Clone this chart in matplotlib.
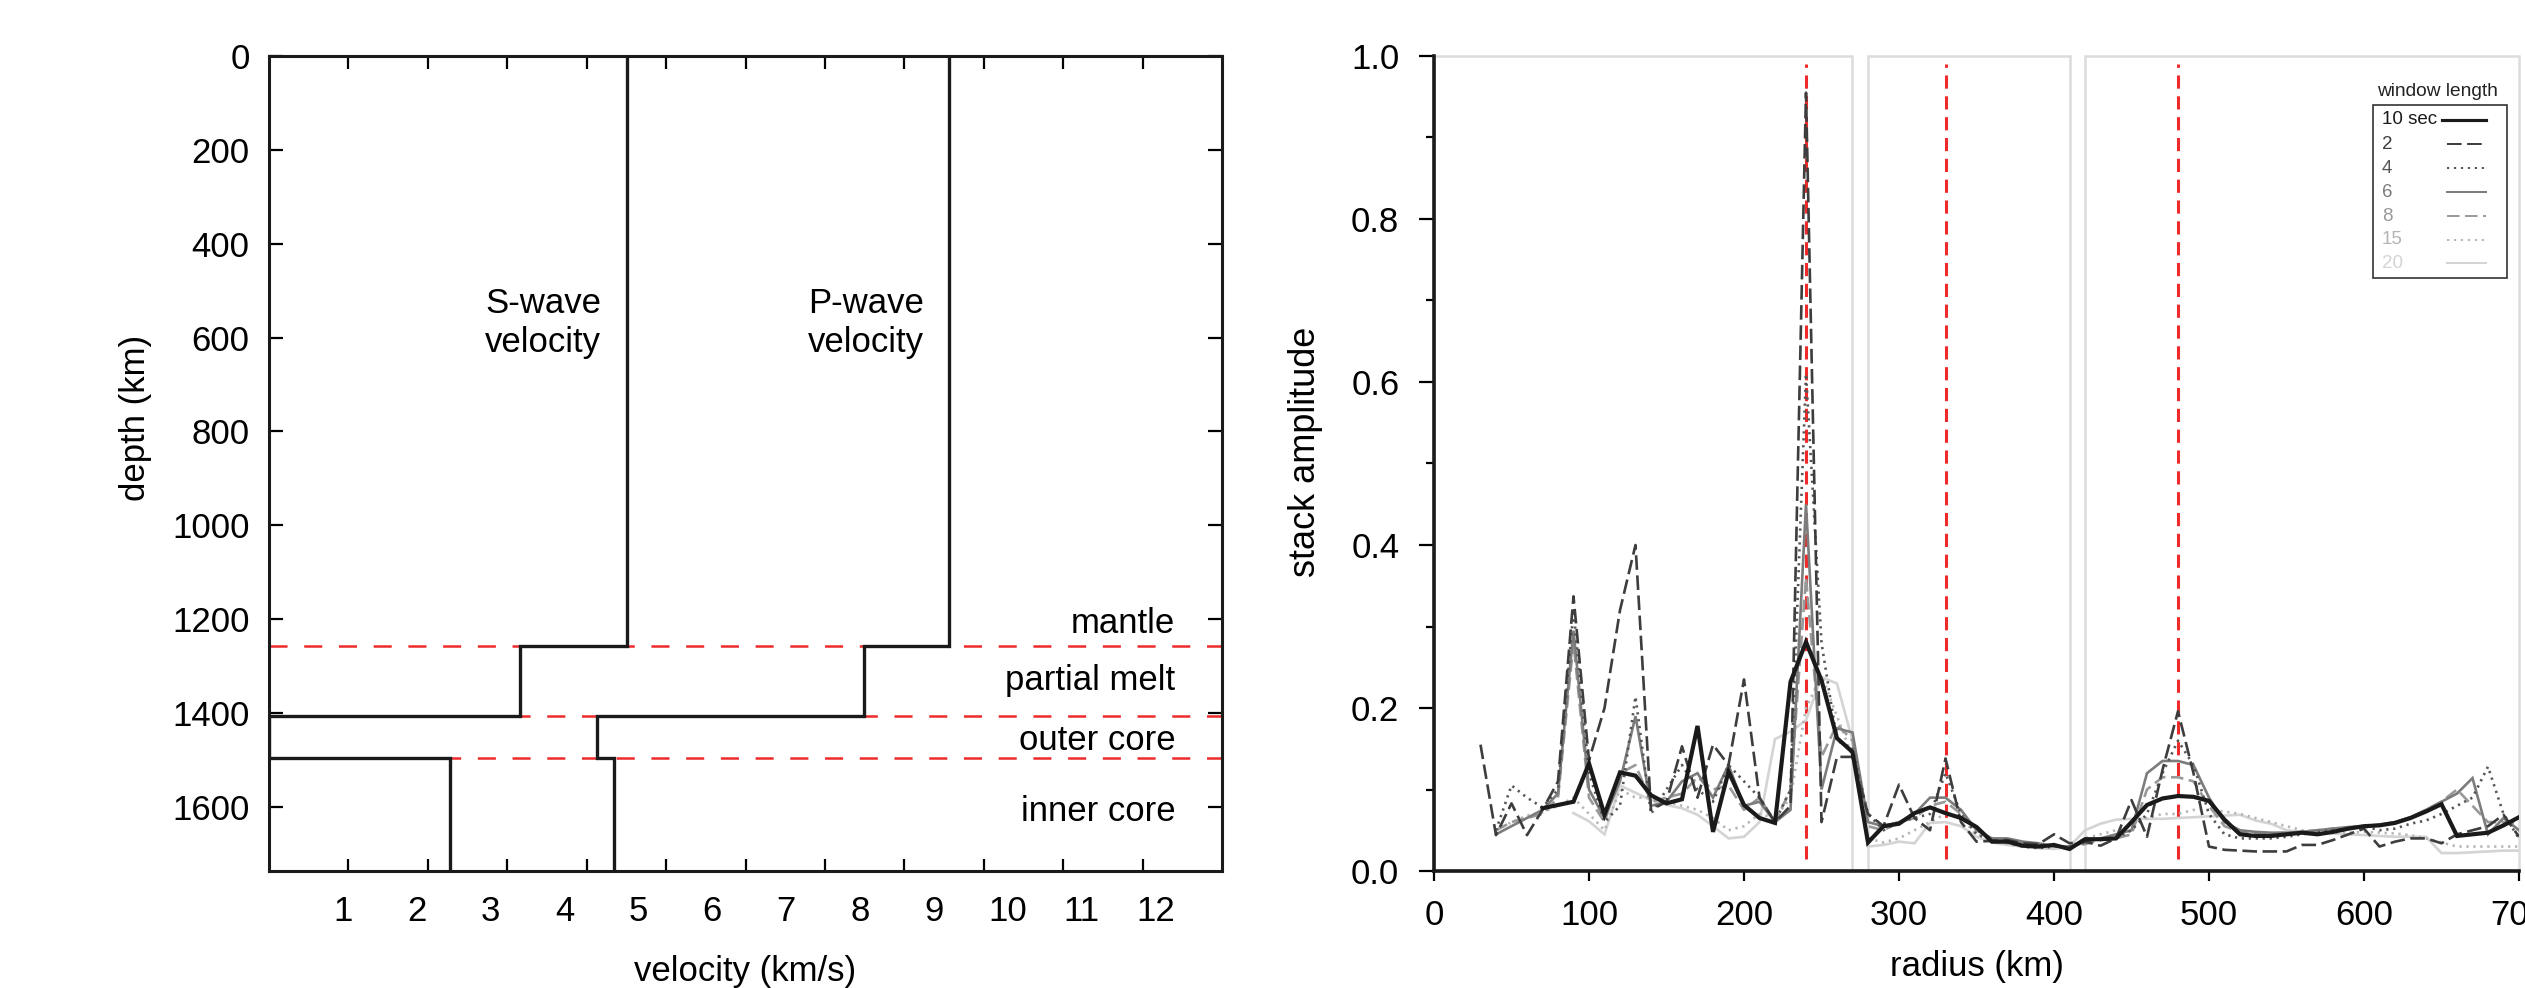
import numpy as np
import matplotlib
matplotlib.use("Agg")
import matplotlib.pyplot as plt
from matplotlib.patches import Rectangle
from matplotlib.lines import Line2D

plt.rcParams['font.family'] = ['Liberation Sans', 'DejaVu Sans']
plt.rcParams['lines.scale_dashes'] = False

# ---------------- data ----------------
moon_radius = 1737
boundary_radii = [480, 330, 240]          # top of partial melt, outer core, inner core
layer_names = ['mantle', 'partial melt', 'outer core', 'inner core']
layer_label_depth = [1229, 1352, 1479, 1631]
vs_layers = [4.85, 3.40, 0.0, 2.45]       # S-wave velocity per layer (km/s)
vp_layers = [9.20, 8.05, 4.44, 4.67]      # P-wave velocity per layer (km/s)
vel_ticklabels = list(range(1, 13))
depth_ticks = [0, 200, 400, 600, 800, 1000, 1200, 1400, 1600]

radius_ticks = [0, 100, 200, 300, 400, 500, 600, 700]
amp_ticks = [0.0, 0.2, 0.4, 0.6, 0.8, 1.0]
panel_ranges = [(0, 270), (280, 410), (420, 700)]

window_labels = ['10 sec', '2', '4', '6', '8', '15', '20']

radius_10 = np.arange(70, 701, 10)
amp_10 = [0.077, 0.081, 0.085, 0.132, 0.069, 0.121, 0.117, 0.093, 0.083, 0.088,
          0.178, 0.048, 0.122, 0.081, 0.065, 0.059, 0.232, 0.281, 0.234, 0.163,
          0.146, 0.035, 0.055, 0.058, 0.071, 0.078, 0.071, 0.065, 0.054, 0.036,
          0.036, 0.031, 0.030, 0.032, 0.027, 0.039, 0.039, 0.040, 0.060, 0.081,
          0.089, 0.092, 0.091, 0.086, 0.063, 0.045, 0.043, 0.043, 0.045, 0.047,
          0.045, 0.048, 0.052, 0.055, 0.056, 0.059, 0.065, 0.073, 0.082, 0.043,
          0.045, 0.047, 0.056, 0.066]

radius_2 = np.arange(30, 701, 10)
amp_2 = [0.155, 0.044, 0.083, 0.044, 0.075, 0.110, 0.337, 0.136, 0.200, 0.320,
         0.400, 0.075, 0.085, 0.153, 0.090, 0.155, 0.130, 0.235, 0.090, 0.060,
         0.080, 0.955, 0.060, 0.140, 0.140, 0.070, 0.055, 0.106, 0.065, 0.050,
         0.138, 0.060, 0.036, 0.037, 0.038, 0.034, 0.033, 0.045, 0.034, 0.036,
         0.031, 0.040, 0.087, 0.042, 0.124, 0.196, 0.120, 0.030, 0.026, 0.025,
         0.024, 0.024, 0.024, 0.032, 0.032, 0.038, 0.045, 0.052, 0.030, 0.036,
         0.040, 0.040, 0.034, 0.045, 0.050, 0.055, 0.069, 0.042]

radius_4 = np.arange(40, 701, 10)
amp_4 = [0.050, 0.105, 0.090, 0.078, 0.100, 0.320, 0.120, 0.060, 0.080, 0.214,
         0.070, 0.100, 0.130, 0.100, 0.085, 0.130, 0.110, 0.090, 0.060, 0.100,
         0.610, 0.280, 0.160, 0.150, 0.070, 0.050, 0.060, 0.065, 0.070, 0.120,
         0.070, 0.045, 0.038, 0.035, 0.030, 0.028, 0.030, 0.030, 0.035, 0.040,
         0.040, 0.050, 0.070, 0.120, 0.160, 0.130, 0.070, 0.045, 0.040, 0.040,
         0.040, 0.042, 0.045, 0.048, 0.050, 0.052, 0.055, 0.050, 0.052, 0.058,
         0.062, 0.070, 0.080, 0.090, 0.128, 0.070, 0.040]

radius_6 = np.arange(40, 701, 10)
amp_6 = [0.045, 0.055, 0.065, 0.075, 0.095, 0.295, 0.100, 0.065, 0.110, 0.190,
         0.080, 0.085, 0.110, 0.120, 0.090, 0.130, 0.080, 0.085, 0.060, 0.075,
         0.450, 0.100, 0.175, 0.170, 0.060, 0.055, 0.060, 0.070, 0.090, 0.090,
         0.075, 0.050, 0.040, 0.040, 0.036, 0.034, 0.030, 0.030, 0.035, 0.040,
         0.045, 0.050, 0.120, 0.135, 0.135, 0.130, 0.090, 0.060, 0.050, 0.048,
         0.047, 0.047, 0.048, 0.050, 0.052, 0.054, 0.055, 0.057, 0.060, 0.066,
         0.075, 0.085, 0.095, 0.114, 0.045, 0.065, 0.050]

radius_8 = np.arange(40, 701, 10)
amp_8 = [0.050, 0.060, 0.065, 0.070, 0.090, 0.280, 0.090, 0.060, 0.120, 0.130,
         0.085, 0.090, 0.095, 0.115, 0.100, 0.105, 0.075, 0.090, 0.060, 0.100,
         0.360, 0.140, 0.180, 0.160, 0.055, 0.050, 0.060, 0.065, 0.080, 0.085,
         0.070, 0.050, 0.040, 0.038, 0.035, 0.032, 0.031, 0.030, 0.033, 0.038,
         0.040, 0.045, 0.100, 0.115, 0.115, 0.110, 0.080, 0.055, 0.048, 0.046,
         0.046, 0.047, 0.048, 0.050, 0.052, 0.053, 0.055, 0.056, 0.060, 0.066,
         0.075, 0.085, 0.100, 0.080, 0.060, 0.060, 0.058]

radius_15 = np.arange(40, 701, 10)
amp_15 = [0.050, 0.060, 0.068, 0.072, 0.080, 0.090, 0.070, 0.050, 0.100, 0.090,
          0.090, 0.085, 0.080, 0.075, 0.065, 0.050, 0.055, 0.070, 0.065, 0.090,
          0.200, 0.240, 0.190, 0.140, 0.040, 0.035, 0.040, 0.050, 0.060, 0.070,
          0.065, 0.045, 0.038, 0.033, 0.030, 0.028, 0.030, 0.030, 0.040, 0.045,
          0.050, 0.055, 0.065, 0.070, 0.070, 0.075, 0.075, 0.073, 0.070, 0.065,
          0.060, 0.055, 0.050, 0.048, 0.047, 0.047, 0.048, 0.047, 0.046, 0.044,
          0.040, 0.035, 0.030, 0.030, 0.030, 0.030, 0.030]

radius_20 = np.arange(90, 701, 10)
amp_20 = [0.071, 0.061, 0.045, 0.105, 0.096, 0.087, 0.081, 0.077, 0.069, 0.055,
          0.040, 0.042, 0.060, 0.162, 0.171, 0.185, 0.238, 0.230, 0.160, 0.030,
          0.032, 0.036, 0.034, 0.059, 0.060, 0.055, 0.042, 0.035, 0.032, 0.030,
          0.028, 0.027, 0.030, 0.050, 0.058, 0.063, 0.064, 0.064, 0.064, 0.065,
          0.066, 0.067, 0.068, 0.069, 0.062, 0.058, 0.050, 0.048, 0.047, 0.046,
          0.045, 0.044, 0.043, 0.042, 0.042, 0.042, 0.022, 0.022, 0.023, 0.024,
          0.025, 0.025]

series = [
    ('20', radius_20, amp_20, dict(color='#d4d4d4', lw=1.9, ls='-')),
    ('15', radius_15, amp_15, dict(color='#b5b5b5', lw=1.9, dashes=(1.6, 3.4))),
    ('8', radius_8, amp_8, dict(color='#999999', lw=1.9, dashes=(9, 4))),
    ('6', radius_6, amp_6, dict(color='#7c7c7c', lw=1.9, ls='-')),
    ('4', radius_4, amp_4, dict(color='#555555', lw=1.9, dashes=(1.6, 3.4))),
    ('2', radius_2, amp_2, dict(color='#3d3d3d', lw=1.9, dashes=(10.5, 4))),
    ('10 sec', radius_10, amp_10, dict(color='#1a1a1a', lw=3.0, ls='-')),
]

W, H = 2525, 988
fig = plt.figure(figsize=(W / 100, H / 100), dpi=100)

def fx(x):
    return x / W

def fy(y):
    return 1 - y / H

RED = '#ee2a2a'
FS = 25

# ---------------- left panel ----------------
ax1 = fig.add_axes([fx(269), fy(871), fx(1222) - fx(269), fy(56) - fy(871)])
ax1.set_xlim(0, 12.9)
ax1.set_ylim(moon_radius, 0)

depth_edges = [0] + [moon_radius - r for r in boundary_radii] + [moon_radius]
for dpt in depth_edges[1:-1]:
    ax1.axhline(dpt, color=RED, lw=1.8, dashes=(13, 12), zorder=1)
ax1.stairs(vs_layers, depth_edges, orientation='horizontal', baseline=None,
           color='#1a1a1a', lw=2.4, zorder=3)
ax1.stairs(vp_layers, depth_edges, orientation='horizontal', baseline=None,
           color='#1a1a1a', lw=2.4, zorder=3)

ax1.text(3.71, 569, 'S-wave\nvelocity', ha='center', va='center', fontsize=FS,
         linespacing=1.2)
ax1.text(8.08, 569, 'P-wave\nvelocity', ha='center', va='center', fontsize=FS,
         linespacing=1.2)
for name, dpt in zip(layer_names, layer_label_depth):
    ax1.text(12.27, dpt, name, ha='right', va='baseline', fontsize=FS)

ax1.set_xticks(vel_ticklabels)
ax1.set_xticklabels([str(v) for v in vel_ticklabels])
ax1.set_xticks(np.linspace(0, 12.9, 13)[1:-1], minor=True)
ax1.tick_params(axis='x', which='major', length=0, pad=17, labelsize=FS)
ax1.tick_params(axis='x', which='minor', direction='in', length=9, width=1.6,
                top=True, bottom=True)
ax1.set_yticks(depth_ticks)
ax1.tick_params(axis='y', which='major', direction='in', length=10, width=1.6,
                left=True, right=True, pad=14, labelsize=FS)
for sp in ax1.spines.values():
    sp.set_linewidth(2.2)
    sp.set_color('#1a1a1a')
ax1.set_xlabel('velocity (km/s)', fontsize=FS)
ax1.xaxis.set_label_coords(0.5, -0.103)
ax1.set_ylabel('depth (km)', fontsize=FS)
ax1.yaxis.set_label_coords(-0.123, 0.556)

# ---------------- right panel ----------------
ax2 = fig.add_axes([fx(1434), fy(871), fx(2519) - fx(1434), fy(56) - fy(871)])
ax2.set_xlim(0, 700)
ax2.set_ylim(0, 1.0)

for x0, x1 in panel_ranges:
    ax2.add_patch(Rectangle((x0, 0), x1 - x0, 1.0, fill=False, ec='#dcdcdc',
                            lw=1.8, clip_on=False, zorder=1))
ax2.vlines(boundary_radii, 0.015, 0.99, colors=RED, lw=2.2,
           linestyles=(0, (9.5, 5.5)), zorder=2)

for lab, rr, aa, st in series:
    ax2.plot(rr, aa, zorder=4 if lab == '10 sec' else 3, solid_joinstyle='miter',
             **st)

ax2.set_xticks(radius_ticks)
ax2.set_yticks(amp_ticks)
ax2.set_yticklabels(['%.1f' % v for v in amp_ticks])
ax2.set_yticks(np.arange(0.1, 1.0, 0.2), minor=True)
ax2.tick_params(axis='y', which='major', direction='out', length=11, width=1.6,
                pad=14, labelsize=FS)
ax2.tick_params(axis='y', which='minor', direction='out', length=6, width=1.6)
ax2.tick_params(axis='x', which='major', direction='out', length=7, width=1.6,
                pad=13, labelsize=FS)
ax2.spines['top'].set_visible(False)
ax2.spines['right'].set_visible(False)
for s in ('left', 'bottom'):
    ax2.spines[s].set_linewidth(2.6)
    ax2.spines[s].set_color('#1a1a1a')
    ax2.spines[s].set_zorder(5)
ax2.set_xlabel('radius (km)', fontsize=FS)
ax2.xaxis.set_label_coords(0.5, -0.097)
ax2.set_ylabel('stack amplitude', fontsize=26)
ax2.yaxis.set_label_coords(-0.102, 0.514)

# ---------------- legend (window length) ----------------
fig.text(fx(2437), fy(91), 'window length', ha='center', va='center',
         fontsize=13.8, color='#222222')
fig.patches.append(Rectangle((fx(2373), fy(278)), fx(2507) - fx(2373),
                             fy(105) - fy(278), fill=False, ec='#333333', lw=1.2,
                             transform=fig.transFigure, figure=fig))
style_by_label = {lab: st for lab, rr, aa, st in series}
row_y = [120, 144, 168, 192, 216, 240, 263]
for lab, yy in zip(window_labels, row_y):
    st = style_by_label[lab]
    fig.text(fx(2382), fy(yy), lab, ha='left', va='center', fontsize=13.5,
             color=st['color'])
    x_start = 2442 if lab == '10 sec' else 2447
    kw = dict(st)
    lw = kw.pop('lw')
    kw['lw'] = lw * 0.75
    fig.lines.append(Line2D([fx(x_start), fx(2486)], [fy(yy), fy(yy)],
                            transform=fig.transFigure, figure=fig, **kw))

fig.savefig('out.png', dpi=100)
